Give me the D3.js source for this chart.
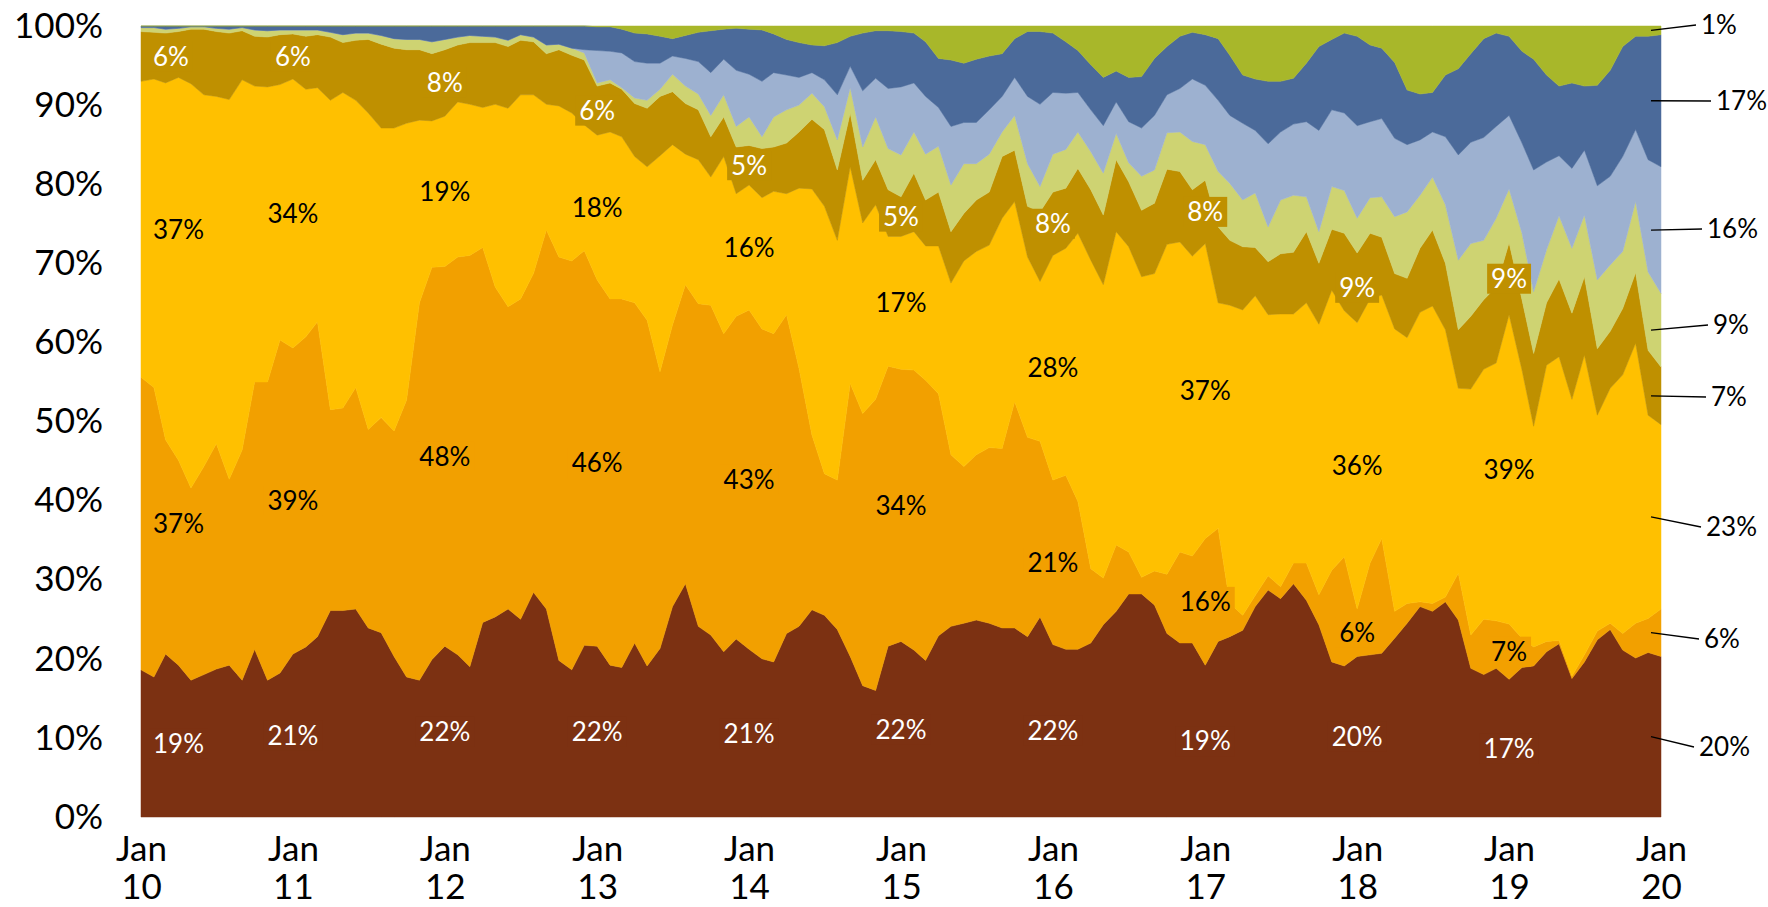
<!DOCTYPE html>
<html>
<head>
<meta charset="utf-8">
<script src="https://cdn.jsdelivr.net/npm/d3@7"></script>
<style>
  body { margin: 0; background: #fff; }
  text { font-family: Lato, "Open Sans", sans-serif; }
</style>
</head>
<body>
<svg id="chart" width="1768" height="907"></svg>
<script>

// monthly shares (%), Jan 2010 .. Jan 2020
const months = d3.range(121).map(i => new Date(2010, i, 1));
const yearLabels = ["10", "11", "12", "13", "14", "15", "16", "17", "18", "19", "20"];
const yTicks = [0, 0.1, 0.2, 0.3, 0.4, 0.5, 0.6, 0.7, 0.8, 0.9, 1];

const seriesKeys = ["brown", "orange", "yellow", "darkgold", "olive", "lightblue", "darkblue", "green"];
const colors = ["#7c3112", "#f2a000", "#ffc000", "#bf9000", "#ced372", "#9db1d0", "#4b6a9a", "#a8b72a"];
const labelColors = ["#fff", "#000", "#000", "#fff"];

const brown = [18.6,17.7,20.6,19.2,17.3,18.0,18.7,19.2,17.3,21.2,17.3,18.2,
  20.6,21.5,22.8,26.1,26.1,26.3,23.9,23.3,20.3,17.7,17.3,19.9,
  21.6,20.5,19.0,24.6,25.3,26.3,25.0,28.4,26.3,19.8,18.6,21.7,
  21.6,19.2,18.9,22.0,19.1,21.3,26.6,29.5,24.1,23.0,20.9,22.5,
  21.2,20.0,19.6,23.2,24.1,26.2,25.5,23.7,20.3,16.6,16.0,21.6,
  22.2,21.1,19.8,22.9,24.1,24.5,24.9,24.5,23.9,23.9,22.8,25.3,
  21.8,21.2,21.2,22.0,24.3,26.0,28.2,28.2,26.8,23.2,22.0,22.0,
  19.2,22.2,22.8,23.6,26.6,28.7,27.6,29.5,27.4,24.3,19.6,19.1,
  20.3,20.5,20.7,22.6,24.5,26.6,26.0,27.2,24.9,18.8,18.0,18.8,
  17.4,18.9,19.1,20.9,21.9,17.5,19.6,22.4,23.7,21.1,20.1,20.8,
  20.3];
const orange = [37.0,36.6,27.1,25.9,24.3,26.3,28.5,23.5,29.1,33.8,37.7,42.1,
  38.7,39.2,39.8,25.4,25.6,28.0,25.1,27.2,28.5,35.0,47.7,49.6,
  48.0,50.3,52.0,47.4,41.7,38.2,40.5,40.3,47.9,51.0,51.7,49.9,
  46.3,46.3,46.6,43.0,43.7,35.0,35.6,37.8,40.8,41.7,40.2,40.8,
  42.9,41.7,41.5,40.3,32.6,22.1,17.9,18.9,34.5,34.4,36.8,35.4,
  34.4,35.4,35.4,30.6,21.7,19.8,20.9,22.2,22.7,28.6,25.2,22.2,
  20.8,22.0,18.7,9.4,5.9,8.4,5.3,2.1,4.3,7.5,11.5,11.0,
  16.0,14.3,4.2,1.9,1.4,1.8,1.5,2.6,4.7,3.8,11.6,13.8,
  6.0,11.6,14.5,3.4,2.5,0.6,1.0,0.6,5.9,4.2,7.0,6.0,
  7.0,3.7,2.4,1.3,0.4,0.3,0.9,1.1,0.8,2.1,4.4,4.3,
  6.0];
const yellow = [37.4,39.0,45.1,48.4,51.1,47.0,43.9,48.0,46.8,37.4,37.3,32.3,
  34.0,31.3,29.6,39.1,39.9,36.3,40.0,36.6,38.3,35.0,23.1,18.5,
  19.0,19.6,19.1,17.7,23.1,25.1,25.8,22.6,15.9,19.1,18.7,15.9,
  18.3,21.1,20.5,18.5,19.4,27.3,22.8,16.5,18.2,16.2,22.4,15.5,
  15.8,16.6,18.0,15.3,22.8,31.1,33.8,30.3,27.4,24.1,24.6,16.4,
  16.8,17.5,17.0,18.7,21.7,26.0,25.7,25.6,29.1,25.3,22.8,20.2,
  28.4,28.7,33.9,39.0,37.1,39.6,38.6,38.0,37.6,41.7,39.2,37.9,
  37.3,28.5,37.7,38.6,37.9,33.0,34.5,31.5,32.9,34.2,35.4,31.1,
  36.2,33.4,30.8,35.7,33.6,36.6,37.6,33.8,23.4,31.1,31.6,32.6,
  39.1,33.9,27.9,34.9,35.9,35.0,37.9,27.3,29.7,32.7,35.4,25.7,
  23.3];
const darkgold = [6.3,5.9,6.3,5.8,6.9,8.3,8.2,8.4,6.2,6.3,6.3,6.3,
  5.7,6.7,6.7,8.0,6.3,7.6,9.3,10.6,10.1,9.3,8.9,8.5,
  8.4,7.2,7.8,8.2,7.8,7.8,6.9,6.7,6.4,7.1,7.3,8.2,
  6.2,6.2,6.0,6.7,7.4,7.5,6.7,6.4,6.3,5.1,5.0,5.9,
  5.0,6.2,5.6,6.4,7.1,8.8,9.7,8.9,6.8,5.4,5.7,5.9,
  5.0,7.4,5.8,6.8,6.5,6.0,6.5,6.7,7.8,6.5,6.4,8.8,
  8.0,7.6,8.2,8.9,8.8,9.1,8.2,8.4,8.9,9.5,8.9,8.4,
  8.0,9.6,8.2,8.0,6.1,6.7,7.6,7.8,9.0,7.7,7.7,9.8,
  8.8,8.3,7.3,7.0,7.5,8.1,9.6,8.4,7.4,9.2,8.8,9.6,
  9.1,8.9,9.2,7.9,9.8,10.9,9.9,8.4,7.2,8.4,8.9,8.2,
  7.3];
const olive = [0.5,0.6,0.5,0.4,0.3,0.3,0.4,0.5,0.4,0.8,0.8,0.6,
  0.5,0.8,0.6,0.6,1.0,0.9,0.8,1.1,1.2,1.3,1.3,1.5,
  1.3,1.0,0.9,0.8,0.7,0.8,0.7,0.6,1.1,0.7,0.9,0.9,
  0.4,0.4,0.2,0.7,1.0,0.9,2.2,2.2,2.0,2.7,2.8,2.6,
  3.6,1.5,3.8,4.2,3.4,3.3,2.9,3.8,3.2,4.2,5.4,5.2,
  5.3,5.2,5.8,5.8,5.9,6.3,4.6,4.8,3.1,4.4,5.4,3.2,
  4.8,4.9,4.6,4.8,5.3,3.3,2.4,4.3,4.2,4.6,5.0,6.1,
  4.5,7.0,7.2,5.9,6.9,4.4,6.8,7.2,4.4,4.0,5.4,5.4,
  4.4,4.5,5.1,7.2,8.4,6.7,6.7,7.4,8.8,9.2,7.5,8.7,
  6.8,8.4,7.8,6.7,8.0,8.2,7.8,8.7,8.4,7.2,9.0,9.9,
  9.3];
const lightblue = [0,0,0,0,0,0,0,0,0,0,0,0,
  0,0,0,0,0,0,0,0,0,0,0,0,
  0,0,0,0,0,0,0,0,0,0,0,0.4,
  4.1,3.6,4.4,4.6,4.7,3.3,2.3,3.5,4.1,5.4,4.5,7.1,
  5.4,7.0,5.6,4.4,3.5,2.6,3.4,5.7,2.7,7.1,4.9,7.6,
  8.6,6.2,7.3,4.9,7.4,5.2,5.2,5.6,4.5,4.8,8.5,10.4,
  7.8,7.1,5.0,5.3,6.0,4.0,5.2,6.1,6.9,4.8,5.5,7.9,
  7.5,9.0,8.6,9.7,7.9,10.5,8.6,9.0,9.5,12.8,9.7,9.8,
  11.7,9.6,9.9,9.9,8.5,7.0,5.7,8.6,13.3,12.8,13.0,11.6,
  9.3,11.4,15.4,11.1,7.6,10.1,8.2,11.9,11.2,12.0,9.1,14.2,
  16.0];
const darkblue = [0.2,0.2,0.4,0.3,0.1,0.1,0.3,0.4,0.2,0.5,0.6,0.5,
  0.5,0.5,0.5,0.8,1.1,0.9,0.9,1.2,1.6,1.7,1.7,2.0,
  1.7,1.4,1.2,1.3,1.4,1.8,1.1,1.4,2.4,2.3,2.8,3.0,
  3.0,3.1,3.0,3.6,3.7,3.4,2.2,2.9,3.7,5.3,3.8,5.3,
  5.7,6.5,4.9,4.5,4.4,3.5,4.3,6.6,3.8,7.3,6.0,7.3,
  7.0,6.3,6.9,6.2,8.4,7.5,8.0,6.8,5.4,4.9,8.2,9.2,
  7.5,6.5,5.3,5.7,6.1,3.9,5.6,6.5,7.2,6.1,6.6,5.9,
  6.4,7.8,7.6,6.1,6.5,7.9,6.4,5.8,7.4,10.6,8.9,10.1,
  11.3,9.7,8.9,9.6,6.9,5.8,5.0,7.8,10.9,11.2,12.5,11.8,
  10.0,11.6,14.0,11.0,8.8,10.8,8.1,12.7,13.4,13.9,11.8,15.6,
  16.7];
const green = [0,0,0,0,0,0,0,0,0,0,0,0,
  0,0,0,0,0,0,0,0,0,0,0,0,
  0,0,0,0,0,0,0,0,0,0,0,0,
  0.1,0.1,0.4,0.9,1.0,1.3,1.6,1.2,0.8,0.6,0.4,0.3,
  0.4,0.5,1.0,1.7,2.1,2.4,2.5,2.1,1.3,0.9,0.6,0.6,
  0.7,0.9,2.0,4.1,4.3,4.7,4.2,3.8,3.5,1.6,0.7,0.7,
  0.9,2.0,3.1,4.9,6.5,5.7,6.5,6.4,4.1,2.6,1.3,0.8,
  1.1,1.6,3.7,6.2,6.7,7.0,7.0,6.6,4.7,2.6,1.7,0.9,
  1.3,2.4,2.8,4.6,8.1,8.6,8.4,6.2,5.4,3.5,1.6,0.9,
  1.3,3.2,4.2,6.2,7.6,7.2,7.6,7.5,5.6,2.6,1.3,1.3,
  1.1];

const seriesValues = [brown, orange, yellow, darkgold, olive, lightblue, darkblue, green];

// where the end-of-series labels sit (text x, text y)
const endLabelPos = [[1699, 747], [1704, 639], [1706, 527], [1711, 397],
                     [1713, 325], [1707, 229], [1716, 101], [1701, 25]];

const svg = d3.select("#chart");
const plotLeft = 141, plotRight = 1661, plotTop = 26, plotBottom = 817;

const x = d3.scaleTime()
            .domain([months[0], months[months.length - 1]])
            .range([plotLeft, plotRight]);
const y = d3.scaleLinear()
            .domain([0, 1])
            .range([plotBottom, plotTop]);

const table = months.map((m, i) => {
    let row = {date: m};
    seriesKeys.forEach((k, j) => row[k] = seriesValues[j][i]);
    return row;
});

const layers = d3.stack()
                 .keys(seriesKeys)
                 .offset(d3.stackOffsetExpand)(table);

const area = d3.area()
               .x(d => x(d.data.date))
               .y0(d => y(d[0]))
               .y1(d => y(d[1]));

svg.append("g")
   .selectAll("path")
   .data(layers)
   .join("path")
   .attr("d", area)
   .attr("fill", (d, i) => colors[i])
   .attr("stroke", (d, i) => colors[i])
   .attr("stroke-width", 0.5);

// y axis
const yAxis = svg.append("g")
                 .attr("transform", "translate(" + plotLeft + ",0)")
                 .call(d3.axisLeft(y).tickValues(yTicks).tickFormat(d3.format(".0%"))
                                     .tickSize(0).tickPadding(38));
yAxis.select(".domain").remove();
yAxis.selectAll("text")
     .attr("font-family", "Lato, sans-serif")
     .attr("font-size", 35)
     .attr("fill", "#000");

// x axis, two lines per tick
const yearTicks = yearLabels.map((l, i) => months[i * 12]);
const xAxis = svg.append("g")
                 .attr("transform", "translate(0," + plotBottom + ")")
                 .call(d3.axisBottom(x).tickValues(yearTicks).tickSize(0).tickFormat(""));
xAxis.select(".domain").remove();
xAxis.selectAll(".tick text").each(function(d, i) {
    let t = d3.select(this).text(null)
              .attr("y", 44).attr("dy", null)
              .attr("font-family", "Lato, sans-serif")
              .attr("font-size", 35)
              .attr("fill", "#000");
    t.append("tspan").attr("x", 0).text("Jan");
    t.append("tspan").attr("x", 0).attr("dy", 38).text(yearLabels[i]);
});

// January labels for the four lower series
const labelLayer = svg.append("g");
function boxedLabel(px, py, txt, fill, textColor, anchor) {
    let g = labelLayer.append("g");
    let rect = g.append("rect").attr("fill", fill);
    let t = g.append("text")
             .attr("x", px).attr("y", py).attr("dy", "0.36em")
             .attr("text-anchor", anchor)
             .attr("font-size", 26)
             .attr("fill", textColor)
             .text(txt);
    let bb = t.node().getBBox();
    rect.attr("x", bb.x - 4).attr("y", py - 15)
        .attr("width", bb.width + 8).attr("height", 30);
}

for (let k = 0; k < 10; k++) {
    let idx = k * 12;
    for (let j = 0; j < 4; j++) {
        let d = layers[j][idx];
        let val = Math.round((d[1] - d[0]) * 100) + "%";
        let px = x(months[idx]);
        let anchor = "middle";
        if (k == 0) { px = px + 12; anchor = "start"; }
        boxedLabel(px, y((d[0] + d[1]) / 2), val, colors[j], labelColors[j], anchor);
    }
}

// end labels with leader lines
const last = months.length - 1;
layers.forEach((layer, j) => {
    let d = layer[last];
    let val = Math.round((d[1] - d[0]) * 100) + "%";
    let pos = endLabelPos[j];
    svg.append("line")
       .attr("x1", plotRight - 10).attr("y1", y((d[0] + d[1]) / 2))
       .attr("x2", pos[0] - 5).attr("y2", pos[1])
       .attr("stroke", "#000")
       .attr("stroke-width", 1.3);
    svg.append("text")
       .attr("x", pos[0]).attr("y", pos[1]).attr("dy", "0.36em")
       .attr("font-size", 26)
       .attr("fill", "#000")
       .text(val);
});

</script>
</body>
</html>
